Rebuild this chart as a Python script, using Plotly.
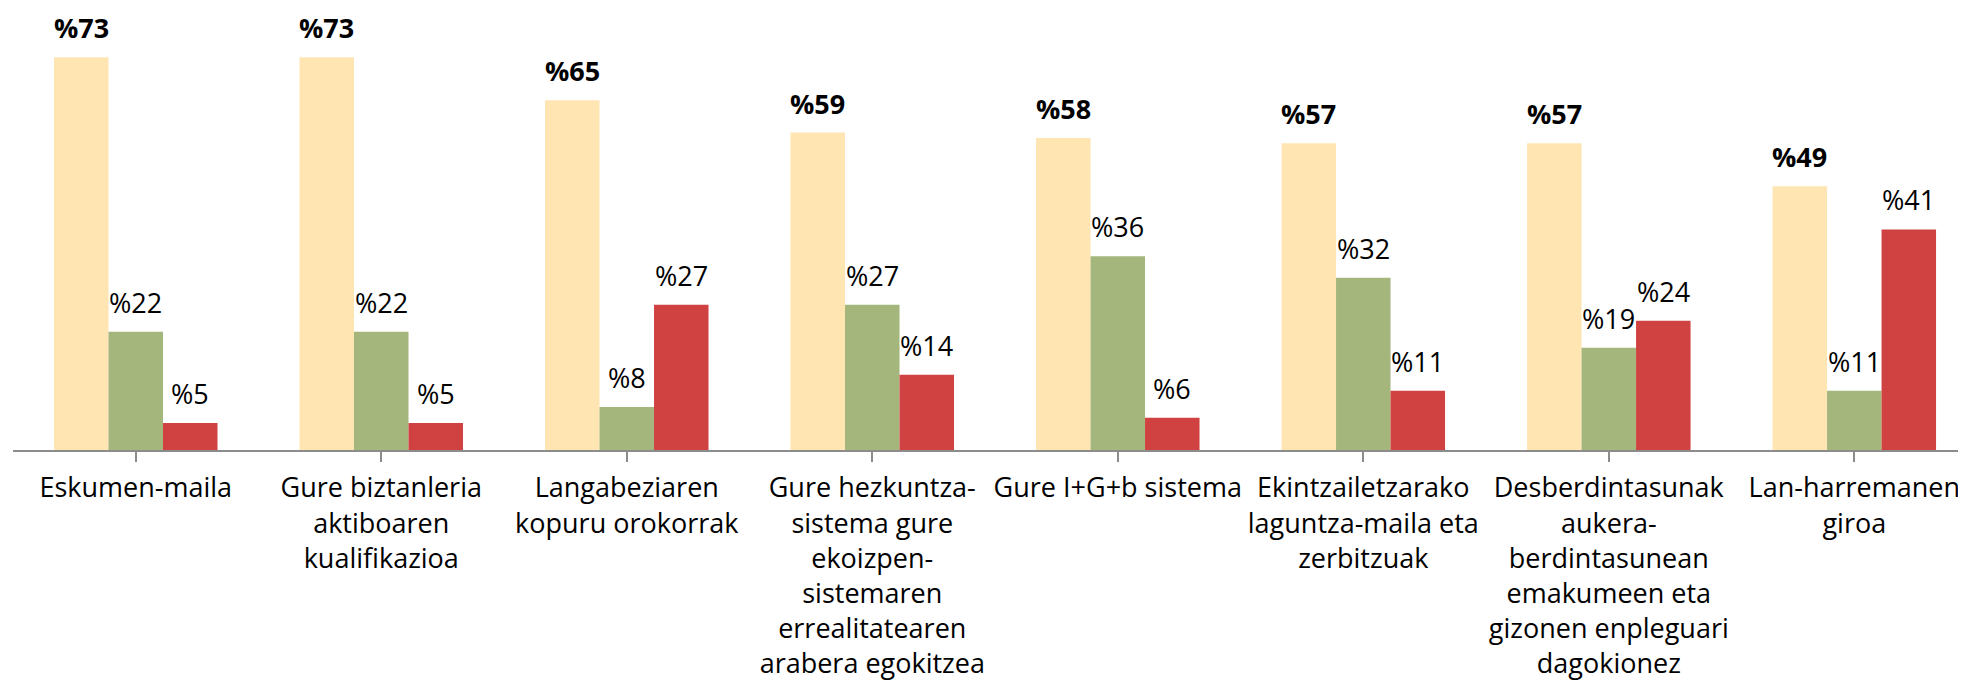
import plotly.graph_objects as go

categories = [
    "Eskumen-maila",
    "Gure biztanleria<br>aktiboaren<br>kualifikazioa",
    "Langabeziaren<br>kopuru orokorrak",
    "Gure hezkuntza-<br>sistema gure<br>ekoizpen-<br>sistemaren<br>errealitatearen<br>arabera egokitzea",
    "Gure I+G+b sistema",
    "Ekintzailetzarako<br>laguntza-maila eta<br>zerbitzuak",
    "Desberdintasunak<br>aukera-<br>berdintasunean<br>emakumeen eta<br>gizonen enpleguari<br>dagokionez",
    "Lan-harremanen<br>giroa",
]
series_a = [73, 73, 65, 59, 58, 57, 57, 49]
series_b = [22, 22, 8, 27, 36, 32, 19, 11]
series_c = [5, 5, 27, 14, 6, 11, 24, 41]

colors = ["#FFE5B1", "#A4B67B", "#D04242"]
FONT = "Open Sans"

fig = go.Figure()
for vals, col in zip([series_a, series_b, series_c], colors):
    fig.add_trace(go.Bar(x=list(range(len(categories))), y=vals, marker_color=col,
                         marker_line_width=0, hoverinfo="skip"))

# data labels through axis coordinates
bargap = 0.334
bw = (1 - bargap) / 3
annotations = []
for k, vals in enumerate([series_a, series_b, series_c]):
    for i, v in enumerate(vals):
        txt = f"<b>%{v}</b>" if k == 0 else f"%{v}"
        annotations.append(dict(
            x=i + (k - 1) * bw, y=v, xref="x", yref="y", text=txt,
            showarrow=False, yanchor="bottom", xanchor="center", yshift=9,
            font=dict(family=FONT, size=27, color="#000000")))

fig.update_layout(
    width=1958, height=675,
    margin=dict(l=5, r=0, t=0, b=233),
    paper_bgcolor="white", plot_bgcolor="white",
    barmode="group", bargap=bargap, bargroupgap=0,
    showlegend=False,
    annotations=annotations,
    xaxis=dict(
        range=[-0.5, 7.455],
        tickmode="array", tickvals=list(range(len(categories))), ticktext=categories,
        showline=True, linecolor="#8C8C8C", linewidth=2,
        ticks="outside", ticklen=10, tickcolor="#8C8C8C", tickwidth=1.5,
        tickson="boundaries", tickangle=0, automargin=False,
        ticklabelstandoff=3,
        tickfont=dict(family=FONT, size=27, color="#000000"),
        showgrid=False, zeroline=False,
    ),
    yaxis=dict(range=[0, 82.15], visible=False, showgrid=False, zeroline=False),
)

fig.write_html("out.html")
